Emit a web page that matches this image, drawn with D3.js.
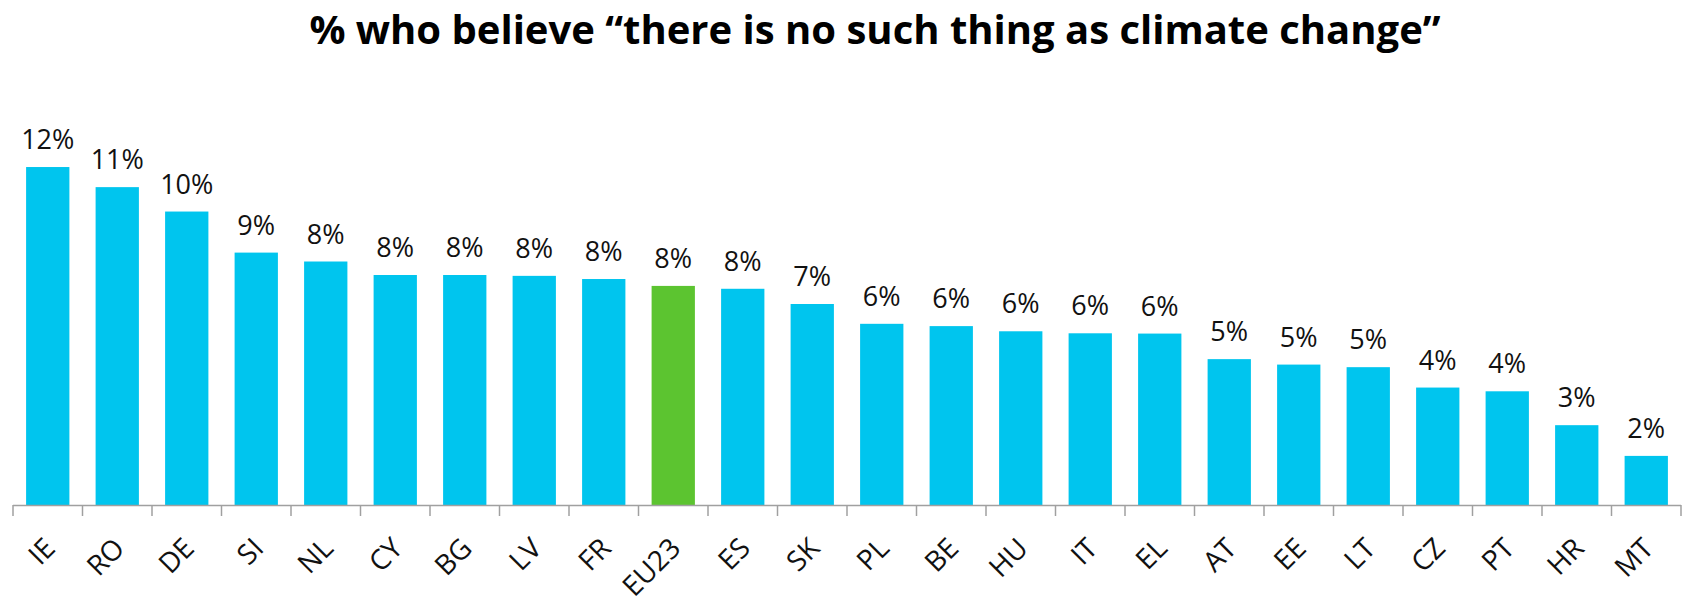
<script src="https://d3js.org/d3.v7.min.js"></script>

<style>
  body { margin: 0; background: #fff; }
  text { font-family: "Segoe UI", "Open Sans", "Noto Sans", sans-serif; }
</style>

<div id="container"></div>

<script>
var countries = ["IE", "RO", "DE", "SI", "NL", "CY", "BG", "LV", "FR", "EU23", "ES", "SK",
                 "PL", "BE", "HU", "IT", "EL", "AT", "EE", "LT", "CZ", "PT", "HR", "MT"];
var shares = [11.77, 11.07, 10.22, 8.79, 8.48, 8.01, 8.01, 7.98, 7.87, 7.63, 7.53, 7.00,
              6.31, 6.23, 6.05, 5.98, 5.97, 5.08, 4.89, 4.80, 4.09, 3.96, 2.78, 1.71];
var highlight = "EU23";
var title = "% who believe \u201cthere is no such thing as climate change\u201d";

var width = 1685, height = 603;
var margin = { top: 103, left: 13, right: 4, bottom: 98 };

var svg = d3.select("#container").append("svg")
  .attr("width", width)
  .attr("height", height);

// title
svg.append("text")
  .attr("x", 875)
  .attr("y", 44)
  .attr("text-anchor", "middle")
  .style("font-size", "40px")
  .style("font-weight", "bold")
  .style("fill", "#000")
  .text(title);

var data = countries.map(function(c, i) { return { country: c, value: shares[i] }; });

var x = d3.scaleBand()
  .domain(countries)
  .range([margin.left, width - margin.right])
  .paddingInner(0.377)
  .paddingOuter(0.1885);

var y = d3.scaleLinear()
  .domain([0, 14])
  .range([height - margin.bottom, margin.top]);

var baseY = y(0);

// bars
svg.append("g")
  .selectAll("rect")
  .data(data)
  .enter()
  .append("rect")
    .attr("x", function(d) { return x(d.country); })
    .attr("y", function(d) { return y(d.value); })
    .attr("width", x.bandwidth())
    .attr("height", function(d) { return baseY - y(d.value); })
    .style("fill", function(d) { return d.country == highlight ? "#5cc430" : "#00c5ee"; });

// value labels
svg.append("g")
  .selectAll("text")
  .data(data)
  .enter()
  .append("text")
    .attr("x", function(d) { return x(d.country) + x.bandwidth() / 2; })
    .attr("y", function(d) { return y(d.value) - 18; })
    .attr("text-anchor", "middle")
    .style("font-size", "27px")
    .style("fill", "#111")
    .text(function(d) { return Math.round(d.value) + "%"; });

// category axis: line + ticks on category boundaries
var axis = svg.append("g");
axis.append("line")
  .attr("x1", margin.left)
  .attr("x2", width - margin.right)
  .attr("y1", baseY + 0.5)
  .attr("y2", baseY + 0.5)
  .style("stroke", "#a0a0a0")
  .style("stroke-width", 1.5);

var bounds = d3.range(countries.length + 1).map(function(i) { return margin.left + i * x.step(); });
axis.selectAll(".tick")
  .data(bounds)
  .enter()
  .append("line")
    .attr("class", "tick")
    .attr("x1", function(d) { return d; })
    .attr("x2", function(d) { return d; })
    .attr("y1", baseY)
    .attr("y2", baseY + 11)
    .style("stroke", "#a0a0a0")
    .style("stroke-width", 1.5);

axis.selectAll(".lbl")
  .data(countries)
  .enter()
  .append("text")
    .attr("class", "lbl")
    .attr("transform", function(d) {
      return "translate(" + (x(d) + x.bandwidth() / 2 + 9) + "," + (baseY + 45) + ") rotate(-45)";
    })
    .attr("text-anchor", "end")
    .style("font-size", "28px")
    .style("fill", "#111")
    .text(function(d) { return d; });
</script>
